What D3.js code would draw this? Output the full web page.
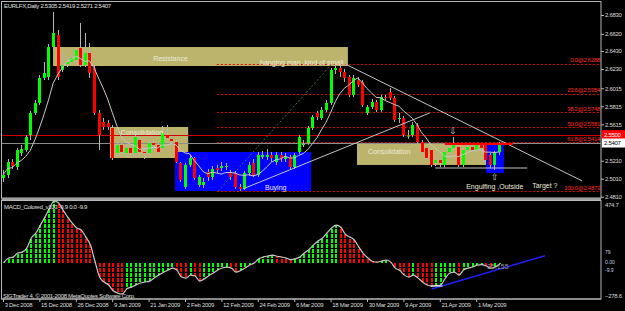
<!DOCTYPE html>
<html><head><meta charset="utf-8">
<script src="https://cdn.jsdelivr.net/npm/d3@7"></script>
<style>body{margin:0;background:#000;overflow:hidden}svg{display:block}</style>
</head><body>
<svg id="c" width="625" height="311"></svg>
<script>
// ---------------- DATA ----------------
const opens = [2.5018,2.5051,2.5196,2.5140,2.5296,2.5329,2.5496,2.5741,2.5852,2.6130,
2.6141,2.6474,2.6608,2.6219,2.6285,2.6308,2.6330,2.6463,2.6274,2.6408,
2.6241,2.5741,2.5641,2.5629,2.5574,2.5296,2.5385,2.5296,2.5352,2.5296,
2.5441,2.5307,2.5296,2.5407,2.5385,2.5352,2.5496,2.5452,2.5418,2.5185,
2.4918,2.5163,2.5240,2.4940,2.4940,2.5085,2.5029,2.5129,2.5129,2.5140,
2.5074,2.5074,2.4918,2.4896,2.5074,2.5185,2.5051,2.5251,2.5251,2.5274,
2.5196,2.5274,2.5229,2.5251,2.5140,2.5307,2.5385,2.5407,2.5574,2.5741,
2.5685,2.5774,2.5852,2.6219,2.6241,2.6196,2.6141,2.5941,2.6107,2.6085,
2.5741,2.5807,2.5863,2.5774,2.5918,2.5974,2.5907,2.5680,2.5685,2.5485,
2.5496,2.5607,2.5418,2.5352,2.5329,2.5185,2.5218,2.5163,2.5307,2.5352,
2.5363,2.5163,2.5329,2.5363,2.5329,2.5385,2.5385,2.5274,2.5163,2.5305];
const highs = [2.5107,2.5229,2.5229,2.5352,2.5385,2.5496,2.5763,2.5885,2.6163,2.6308,
2.6508,2.6863,2.6663,2.6408,2.6352,2.6385,2.6474,2.6741,2.6630,2.6519,
2.6274,2.5774,2.5685,2.5663,2.5607,2.5418,2.5407,2.5396,2.5374,2.5496,
2.5474,2.5352,2.5429,2.5441,2.5407,2.5596,2.5607,2.5485,2.5441,2.5196,
2.5185,2.5274,2.5251,2.5051,2.5018,2.5118,2.5151,2.5163,2.5196,2.5185,
2.5107,2.5096,2.4951,2.5096,2.5196,2.5229,2.5307,2.5318,2.5340,2.5307,
2.5307,2.5307,2.5296,2.5274,2.5296,2.5496,2.5441,2.5596,2.5718,2.5763,
2.5807,2.5885,2.6241,2.6274,2.6288,2.6230,2.6163,2.6163,2.6141,2.6107,
2.5830,2.5896,2.5885,2.5941,2.5941,2.6019,2.5930,2.5741,2.5707,2.5552,
2.5641,2.5629,2.5441,2.5374,2.5352,2.5251,2.5240,2.5329,2.5374,2.5474,
2.5396,2.5352,2.5396,2.5396,2.5407,2.5407,2.5407,2.5296,2.5318,2.5419];
const lows = [2.4974,2.5018,2.5118,2.5107,2.5263,2.5307,2.5441,2.5718,2.5830,2.6107,
2.6107,2.6441,2.6107,2.6196,2.6252,2.6285,2.6308,2.6252,2.6252,2.6130,
2.5718,2.5329,2.5552,2.5552,2.5218,2.5251,2.5274,2.5240,2.5263,2.5251,
2.5274,2.5229,2.5263,2.5340,2.5274,2.5329,2.5441,2.5407,2.5185,2.4974,
2.4896,2.5140,2.4996,2.4918,2.4907,2.4985,2.4996,2.5074,2.5096,2.5107,
2.4996,2.4896,2.4874,2.4885,2.5040,2.5029,2.5029,2.5229,2.5218,2.5196,
2.5163,2.5196,2.5196,2.5107,2.5118,2.5285,2.5363,2.5385,2.5552,2.5663,
2.5663,2.5752,2.5830,2.6174,2.6141,2.6085,2.5918,2.5918,2.6030,2.5807,
2.5718,2.5785,2.5752,2.5752,2.5885,2.5885,2.5641,2.5629,2.5474,2.5452,
2.5474,2.5396,2.5285,2.5218,2.5140,2.5151,2.5140,2.5140,2.5285,2.5329,
2.5140,2.5140,2.5307,2.5307,2.5307,2.5329,2.5196,2.5129,2.5107,2.5271];
const closes = [2.5051,2.5196,2.5152,2.5329,2.5340,2.5474,2.5741,2.5852,2.6130,2.6185,
2.6474,2.6630,2.6141,2.6274,2.6308,2.6352,2.6441,2.6274,2.6408,2.6185,
2.5741,2.5496,2.5585,2.5585,2.5240,2.5385,2.5307,2.5352,2.5296,2.5474,
2.5307,2.5296,2.5407,2.5385,2.5307,2.5518,2.5463,2.5429,2.5196,2.4996,
2.5163,2.5240,2.5018,2.5029,2.4974,2.5029,2.5118,2.5107,2.5151,2.5151,
2.5029,2.4918,2.4896,2.5074,2.5163,2.5051,2.5274,2.5274,2.5274,2.5240,
2.5274,2.5229,2.5251,2.5140,2.5274,2.5474,2.5396,2.5574,2.5696,2.5696,
2.5774,2.5852,2.6219,2.6241,2.6196,2.6130,2.5941,2.6130,2.6052,2.5830,
2.5807,2.5863,2.5774,2.5918,2.5907,2.5907,2.5663,2.5685,2.5496,2.5490,
2.5607,2.5418,2.5307,2.5240,2.5163,2.5218,2.5185,2.5307,2.5352,2.5385,
2.5163,2.5329,2.5363,2.5329,2.5385,2.5352,2.5218,2.5163,2.5296,2.5407];
const macdValues = [5,36,44,75,82,113,190,228,290,351,
420,474.7,459,405,351,305,267,251,197,136,
10,-110,-148,-171,-215,-233,-240,-200,-187,-170,
-156,-148,-141,-118,-95,-75,-58,-41,-56,-110,
-118,-95,-102,-141,-125,-100,-79,-55,-40,-33,
-41,-72,-60,-40,-18,-2,30,45,52,59,
50,44,36,24,30,44,75,100,136,167,
190,230,267,290,275,220,198,175,120,70,
36,10,5,13,21,5,-41,-60,-95,-110,
-95,-118,-148,-171,-179,-175,-171,-118,-79,-72,
-95,-56,-41,-33,-18,-15,-25,-41,-33,-10];
const dateTickIdx = [0,8,16,24,32,40,48,56,64,72,80,88,96,104];
const dateTickLabels = ["3 Dec 2008","15 Dec 2008","26 Dec 2008","9 Jan 2009","21 Jan 2009","2 Feb 2009","12 Feb 2009","24 Feb 2009","6 Mar 2009","18 Mar 2009","30 Mar 2009","9 Apr 2009","21 Apr 2009","1 May 2009"];
const priceTicks = [2.6830,2.6620,2.6430,2.6230,2.6015,2.5815,2.5615,2.5210,2.5010,2.4810];
const macdTicks = [474.7,-278.6];
const fibNames = ["0.0","23.6","38.2","50.0","61.8","100.0"];
const fibValues = [2.6288,2.5954,2.5748,2.5581,2.5414,2.4873];
const alertPrice = 2.5500;
const bidPrice = 2.5407;
const maPeriod = 7;
// zones: [startBar, endBar, topPrice, bottomPrice]
const khakiZones = [[11,75.8,2.6474,2.6263],[23.5,40.7,2.5585,2.5240],[77.8,106.2,2.5396,2.5163]];
const blueZones = [[37.8,67.7,2.5307,2.4874],[106.2,110.1,2.5396,2.5074]];
// trend lines: [bar1, price1, bar2, price2]
const trendLines = [[75.2,2.6285,127.3,2.4985],[52.7,2.4896,93.8,2.5741],[95,2.5129,115.2,2.5129]];
const fibTrend = [47.3,2.4874,72.3,2.6285];
const fibStart = 47;
const resistLine = [97.1,112.1,2.5396];
const labels = [
 {t:"Resistance",i:33,p:2.6341},
 {t:"hanging man ,kind of small",i:56.5,p:2.6296},
 {t:"Consolidation",i:25.9,p:2.5518},
 {t:"Consolidation",i:80.2,p:2.5307},
 {t:"Buying",i:57.6,p:2.4907},
 {t:"Engulfing ,Outside",i:101.8,p:2.4918},
 {t:"Target ?",i:116.3,p:2.4929}
];
const arrows = [{t:"\u21E9",i:98.9,p:2.5541},{t:"\u21E7",i:108.1,p:2.5029}];
const macdTrend = [94.2,-202,119.1,54];
const macdShort = [94,-179,96.6,-179];
const macdNote = {t:"35.155",i:106.4,v:-33};

// ---------------- CHART ----------------
const svg = d3.select("#c");
const W = 625, H = 311;
const x = d3.scaleLinear().domain([0,131.43]).range([3,601]);
const y = d3.scaleLinear().domain([2.47955,2.69745]).range([198,2]);
const ym = d3.scaleLinear().domain([-278.6,474.7]).range([299,201]);
const FONT = "Liberation Sans, Arial, sans-serif";
const px = v => Math.round(v)+0.5;

svg.append("rect").attr("width",W).attr("height",H).attr("fill","#000");
const defs = svg.append("defs");
defs.append("clipPath").attr("id","cm").append("rect").attr("x",2).attr("y",2).attr("width",599).attr("height",196);
defs.append("clipPath").attr("id","cd").append("rect").attr("x",2).attr("y",201).attr("width",599).attr("height",98);

const g = svg.append("g").attr("clip-path","url(#cm)");

// zones
g.selectAll("rect.kz").data(khakiZones).join("rect")
 .attr("x",d=>x(d[0])).attr("width",d=>x(d[1])-x(d[0]))
 .attr("y",d=>y(d[2])).attr("height",d=>y(d[3])-y(d[2]))
 .attr("fill","#bcb46c");
g.selectAll("rect.bz").data(blueZones).join("rect")
 .attr("x",d=>x(d[0])).attr("width",d=>x(d[1])-x(d[0]))
 .attr("y",d=>y(d[2])).attr("height",d=>y(d[3])-y(d[2]))
 .attr("fill","#0000ff");

// fib levels
const fib = fibValues.map((v,k)=>({v,name:fibNames[k]}));
g.selectAll("line.fib").data(fib).join("line")
 .attr("x1",x(fibStart)).attr("x2",601).attr("y1",d=>px(y(d.v))).attr("y2",d=>px(y(d.v)))
 .attr("stroke","#e00000").attr("stroke-dasharray","2,2");
g.selectAll("text.fib").data(fib).join("text")
 .attr("x",600).attr("y",d=>y(d.v)-1.5).attr("text-anchor","end")
 .attr("font-family",FONT).attr("font-size",6).attr("letter-spacing",-0.3)
 .attr("fill","#ff2a2a").text(d=>d.name+"@"+d.v.toFixed(4));
g.append("line").attr("x1",x(fibTrend[0])).attr("y1",y(fibTrend[1])).attr("x2",x(fibTrend[2])).attr("y2",y(fibTrend[3]))
 .attr("stroke","#3c7a3c").attr("stroke-dasharray","2,2");

// price lines
g.append("line").attr("x1",2).attr("x2",601).attr("y1",px(y(alertPrice))).attr("y2",px(y(alertPrice))).attr("stroke","#d00000");
g.append("line").attr("x1",2).attr("x2",601).attr("y1",px(y(bidPrice))).attr("y2",px(y(bidPrice))).attr("stroke","#8c8c8c");

// candles
const candles = d3.range(opens.length).map(i=>({i,o:opens[i],h:highs[i],l:lows[i],c:closes[i]}));
g.selectAll("line.wick").data(candles).join("line")
 .attr("x1",d=>px(x(d.i))).attr("x2",d=>px(x(d.i)))
 .attr("y1",d=>y(d.h)).attr("y2",d=>y(d.l))
 .attr("stroke","#b4b4b4");
g.selectAll("rect.body").data(candles).join("rect")
 .attr("x",d=>Math.round(x(d.i))-1).attr("width",3)
 .attr("y",d=>y(Math.max(d.o,d.c)))
 .attr("height",d=>Math.max(1,Math.abs(y(d.o)-y(d.c))))
 .attr("fill",d=>d.c>d.o?"#00ff00":(d.c<d.o?"#ff0000":"#c8c8c8"));

// moving average of closes
const ma = closes.map((c,i)=>d3.mean(closes.slice(Math.max(0,i-maPeriod+1),i+1)));
g.append("path").datum(ma).attr("fill","none").attr("stroke","#c8c8c8").attr("stroke-width",1)
 .attr("d",d3.line().x((d,i)=>x(i)).y(d=>y(d)));

// trend lines
g.selectAll("line.tl").data(trendLines).join("line")
 .attr("x1",d=>x(d[0])).attr("y1",d=>y(d[1])).attr("x2",d=>x(d[2])).attr("y2",d=>y(d[3]))
 .attr("stroke","#c4c4c4");
g.append("line").attr("x1",x(resistLine[0])).attr("x2",x(resistLine[1]))
 .attr("y1",y(resistLine[2])).attr("y2",y(resistLine[2])).attr("stroke","#ff0000").attr("stroke-width",2);

// labels
g.selectAll("text.lb").data(labels).join("text")
 .attr("x",d=>x(d.i)).attr("y",d=>y(d.p)).attr("dy","0.35em")
 .attr("font-family",FONT).attr("font-size",7).attr("fill","#eeeadc").text(d=>d.t);
g.selectAll("text.ar").data(arrows).join("text")
 .attr("x",d=>x(d.i)).attr("y",d=>y(d.p)).attr("dy","0.35em").attr("text-anchor","middle")
 .attr("font-family","DejaVu Sans").attr("font-size",9).attr("fill","#d0d0d0").text(d=>d.t);

// title
svg.append("text").attr("x",4).attr("y",6).attr("dy","0.35em").attr("font-family",FONT).attr("font-size",6)
 .attr("letter-spacing",-0.3).attr("fill","#e0e0e0").text("EURLFX,Daily  2.5305 2.5419 2.5271 2.5407");

// ---------------- MACD ----------------
const m = svg.append("g").attr("clip-path","url(#cd)");
m.selectAll("line.hb").data(macdValues).join("line")
 .attr("x1",(d,i)=>Math.round(x(i))+1).attr("x2",(d,i)=>Math.round(x(i))+1)
 .attr("y1",Math.round(ym(0))).attr("y2",d=>ym(d))
 .attr("stroke",(d,i)=> (i>0 && d<macdValues[i-1]) ? "#ff0000" : "#00ff00")
 .attr("stroke-width",2).attr("stroke-dasharray","4,1");
m.append("path").datum(macdValues).attr("fill","none").attr("stroke","#c8c8c8").attr("stroke-width",1.2)
 .attr("d",d3.line().x((d,i)=>x(i)+1).y(d=>ym(d)).curve(d3.curveMonotoneX));
m.append("line").attr("x1",x(macdTrend[0])).attr("y1",ym(macdTrend[1])).attr("x2",x(macdTrend[2])).attr("y2",ym(macdTrend[3]))
 .attr("stroke","#2020ff").attr("stroke-width",1.5);
m.append("line").attr("x1",x(macdShort[0])).attr("y1",ym(macdShort[1])).attr("x2",x(macdShort[2])).attr("y2",ym(macdShort[3]))
 .attr("stroke","#ffffff");
m.append("text").attr("x",x(macdNote.i)).attr("y",ym(macdNote.v)).attr("dy","0.35em")
 .attr("font-family",FONT).attr("font-size",7).attr("fill","#9a9a9a").text(macdNote.t);
svg.append("text").attr("x",4).attr("y",207).attr("dy","0.35em").attr("font-family",FONT).attr("font-size",6)
 .attr("letter-spacing",-0.3).attr("fill","#e0e0e0").text("MACD_Colored_v103 -9.9 0.0 -9.9");

// ---------------- FRAMES & AXES ----------------
const frame = "#b8b8b8";
svg.append("rect").attr("x",1.5).attr("y",1.5).attr("width",599.5).attr("height",196.5).attr("fill","none").attr("stroke",frame);
svg.append("rect").attr("x",1.5).attr("y",198).attr("width",599.5).attr("height",2.5).attr("fill","#a0a0a0");
svg.append("rect").attr("x",1.5).attr("y",200.5).attr("width",599.5).attr("height",98.5).attr("fill","none").attr("stroke",frame);

const styleAxis = sel => {
  sel.select(".domain").remove();
  sel.selectAll("line").attr("stroke",frame);
  sel.selectAll("text").attr("font-family",FONT).attr("font-size",6).attr("letter-spacing",-0.3).attr("fill","#dcdcdc");
};
svg.append("g").attr("transform","translate(601,0)")
 .call(d3.axisRight(y).tickValues(priceTicks).tickFormat(d3.format(".4f")).tickSize(3).tickPadding(1))
 .call(styleAxis);
svg.append("g").attr("transform","translate(601,0)")
 .call(d3.axisRight(ym).tickValues(macdTicks).tickFormat(d3.format(".1f")).tickSize(0).tickPadding(4))
 .call(styleAxis)
 .call(s=>s.selectAll("text").attr("dy",d=>d>0?"0.95em":"-0.3em"));
svg.append("g").attr("transform","translate(601,0)").selectAll("text").data([["79",252],["0.00",262],["-9.9",270]]).join("text")
 .attr("x",4).attr("y",d=>d[1]).attr("dy","0.35em").attr("font-family",FONT).attr("font-size",5).attr("fill","#c8d0e4").text(d=>d[0]);

svg.append("g").attr("transform","translate(0,299)")
 .call(d3.axisBottom(x).tickValues(dateTickIdx).tickFormat((d,k)=>dateTickLabels[k]).tickSize(3).tickPadding(1))
 .call(styleAxis)
 .call(s=>s.selectAll("text").attr("text-anchor","start").attr("dx","0.2em"));
svg.append("line").attr("x1",1.5).attr("x2",601).attr("y1",299).attr("y2",299).attr("stroke",frame);

// right price boxes
const boxes = [[alertPrice,"#ff0000","#ffffff"],[bidPrice,"#ffffff","#000000"]];
const bg = svg.append("g");
bg.selectAll("rect").data(boxes).join("rect").attr("x",602).attr("width",23)
 .attr("y",d=>y(d[0])-4.5).attr("height",9).attr("fill",d=>d[1]);
bg.selectAll("text").data(boxes).join("text").attr("x",604).attr("y",d=>y(d[0])).attr("dy","0.35em")
 .attr("font-family",FONT).attr("font-size",6).attr("letter-spacing",-0.3).attr("fill",d=>d[2]).text(d=>d[0].toFixed(4));

svg.append("text").attr("x",3).attr("y",295.5).attr("dy","0.35em").attr("font-family",FONT).attr("font-size",6)
 .attr("letter-spacing",-0.3).attr("fill","#e0e0e0").text("SIGTrader 4, \u00A9 2001-2008 MetaQuotes Software Corp.");
</script>
</body></html>
